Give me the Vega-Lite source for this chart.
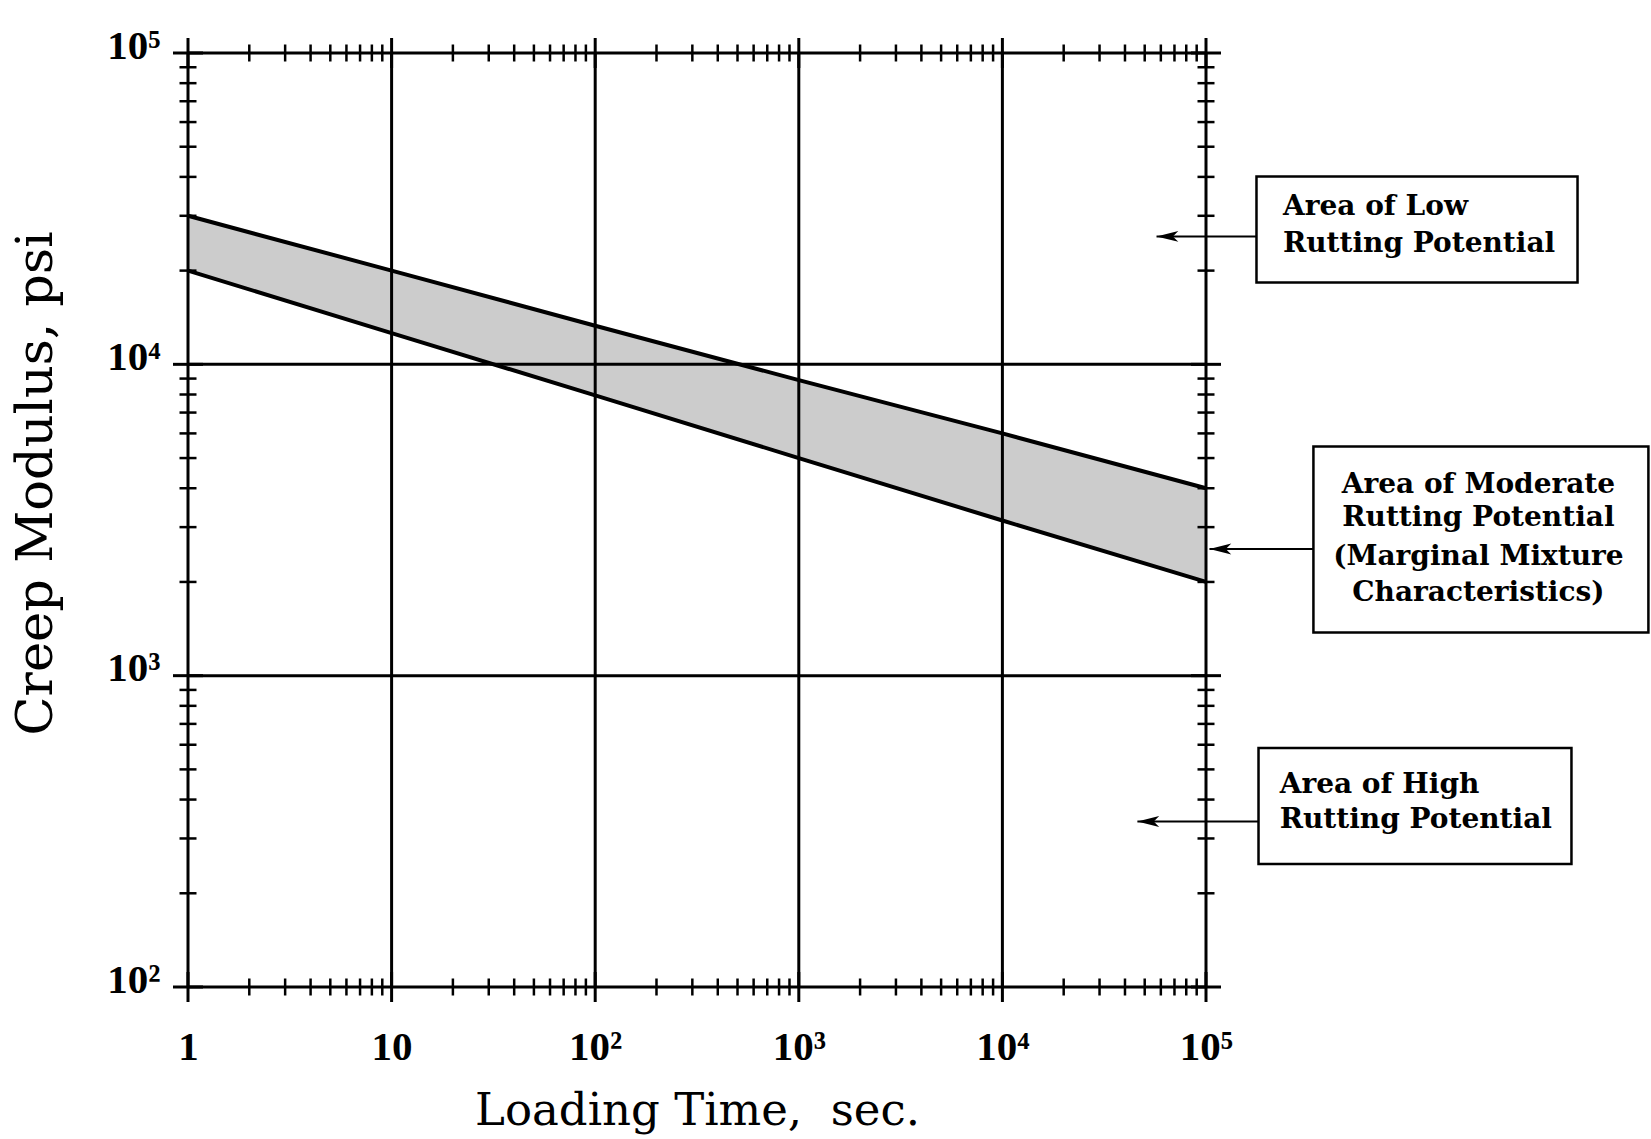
{
  "$schema": "https://vega.github.io/schema/vega-lite/v6.json",
  "autosize": {"type": "none"},
  "padding": {"left": 188, "top": 53, "right": 445, "bottom": 152},
  "width": 1018,
  "height": 934,
  "background": "white",
  "config": {"view": {"stroke": null}},
  "datasets": {
    "band": [
      {"t": 1, "upper": 30000, "lower": 20000},
      {"t": 10, "upper": 20000, "lower": 12600},
      {"t": 100, "upper": 13300, "lower": 7950},
      {"t": 1000, "upper": 8900, "lower": 5000},
      {"t": 10000, "upper": 6000, "lower": 3150},
      {"t": 100000, "upper": 4000, "lower": 2000}
    ],
    "xmajor": [{"v": 1}, {"v": 10}, {"v": 100}, {"v": 1000}, {"v": 10000}, {"v": 100000}],
    "ymajor": [{"v": 100}, {"v": 1000}, {"v": 10000}, {"v": 100000}],
    "xminor": [
      {"v": 2}, {"v": 3}, {"v": 4}, {"v": 5}, {"v": 6}, {"v": 7}, {"v": 8}, {"v": 9},
      {"v": 20}, {"v": 30}, {"v": 40}, {"v": 50}, {"v": 60}, {"v": 70}, {"v": 80}, {"v": 90},
      {"v": 200}, {"v": 300}, {"v": 400}, {"v": 500}, {"v": 600}, {"v": 700}, {"v": 800}, {"v": 900},
      {"v": 2000}, {"v": 3000}, {"v": 4000}, {"v": 5000}, {"v": 6000}, {"v": 7000}, {"v": 8000}, {"v": 9000},
      {"v": 20000}, {"v": 30000}, {"v": 40000}, {"v": 50000}, {"v": 60000}, {"v": 70000}, {"v": 80000}, {"v": 90000}
    ],
    "yminor": [
      {"v": 200}, {"v": 300}, {"v": 400}, {"v": 500}, {"v": 600}, {"v": 700}, {"v": 800}, {"v": 900},
      {"v": 2000}, {"v": 3000}, {"v": 4000}, {"v": 5000}, {"v": 6000}, {"v": 7000}, {"v": 8000}, {"v": 9000},
      {"v": 20000}, {"v": 30000}, {"v": 40000}, {"v": 50000}, {"v": 60000}, {"v": 70000}, {"v": 80000}, {"v": 90000}
    ],
    "boxes": [
      {"x1": 177000, "x2": 6680000, "y1": 40150, "y2": 18320},
      {"x1": 337000, "x2": 14890000, "y1": 5450, "y2": 1376},
      {"x1": 181100, "x2": 6237000, "y1": 585.5, "y2": 248.5}
    ],
    "arrows": [
      {"from": 177000, "to": 57150, "y": 25760},
      {"from": 337000, "to": 104000, "y": 2551},
      {"from": 181100, "to": 46030, "y": 340}
    ],
    "notesLeft": [
      {"x": 238800, "y": 32060, "text": "Area of Low"},
      {"x": 238800, "y": 24430, "text": "Rutting Potential"},
      {"x": 230100, "y": 445.6, "text": "Area of High"},
      {"x": 230100, "y": 345.1, "text": "Rutting Potential"}
    ],
    "notesCenter": [
      {"x": 2178000, "y": 4102, "text": "Area of Moderate"},
      {"x": 2178000, "y": 3199, "text": "Rutting Potential"},
      {"x": 2178000, "y": 2399, "text": "(Marginal Mixture"},
      {"x": 2178000, "y": 1841, "text": "Characteristics)"}
    ]
  },
  "layer": [
    {
      "data": {"name": "band"},
      "mark": {"type": "area", "color": "#cccccc", "opacity": 1},
      "encoding": {
        "x": {
          "field": "t", "type": "quantitative",
          "scale": {"type": "log", "domain": [1, 100000], "nice": false},
          "axis": {
            "values": [1, 10, 100, 1000, 10000, 100000],
            "labelExpr": "datum.value == 1 ? '1' : datum.value == 10 ? '10' : datum.value == 100 ? '10²' : datum.value == 1000 ? '10³' : datum.value == 10000 ? '10⁴' : '10⁵'",
            "grid": false, "domain": false, "ticks": false, "tickSize": 0,
            "labelPadding": 40, "labelFont": "Liberation Serif", "labelFontWeight": "bold",
            "labelFontSize": 41, "labelColor": "black", "labelFlush": false,
            "labelOverlap": false, "labelBound": false,
            "title": "Loading Time,\u00a0 sec.", "titleFont": "DejaVu Serif", "titleFontSize": 45,
            "titleFontWeight": "normal", "titleColor": "black", "titlePadding": 21
          }
        },
        "y": {
          "field": "lower", "type": "quantitative",
          "scale": {"type": "log", "domain": [100, 100000], "nice": false},
          "axis": {
            "values": [100, 1000, 10000, 100000],
            "labelExpr": "datum.value == 100 ? '10²' : datum.value == 1000 ? '10³' : datum.value == 10000 ? '10⁴' : '10⁵'",
            "grid": false, "domain": false, "ticks": false, "tickSize": 0,
            "labelPadding": 28, "labelOffset": -7, "labelFont": "Liberation Serif", "labelFontWeight": "bold",
            "labelFontSize": 41, "labelColor": "black", "labelFlush": false,
            "labelOverlap": false, "labelBound": false,
            "title": "Creep Modulus, psi", "titleFont": "DejaVu Serif", "titleFontSize": 51,
            "titleFontWeight": "normal", "titleColor": "black", "titlePadding": 44, "titleY": 430
          }
        },
        "y2": {"field": "upper"}
      }
    },
    {
      "data": {"name": "band"},
      "mark": {"type": "line", "color": "black", "strokeWidth": 4},
      "encoding": {
        "x": {"field": "t", "type": "quantitative"},
        "y": {"field": "upper", "type": "quantitative"}
      }
    },
    {
      "data": {"name": "band"},
      "mark": {"type": "line", "color": "black", "strokeWidth": 4},
      "encoding": {
        "x": {"field": "t", "type": "quantitative"},
        "y": {"field": "lower", "type": "quantitative"}
      }
    },
    {
      "data": {"name": "xmajor"},
      "mark": {"type": "rule", "color": "black", "strokeWidth": 3},
      "encoding": {
        "x": {"field": "v", "type": "quantitative"},
        "y": {"datum": 100, "type": "quantitative"},
        "y2": {"datum": 100000}
      }
    },
    {
      "data": {"name": "ymajor"},
      "mark": {"type": "rule", "color": "black", "strokeWidth": 3},
      "encoding": {
        "y": {"field": "v", "type": "quantitative"},
        "x": {"datum": 1, "type": "quantitative"},
        "x2": {"datum": 100000}
      }
    },
    {
      "data": {"name": "xmajor"},
      "mark": {"type": "tick", "orient": "vertical", "size": 30, "thickness": 3, "color": "black", "opacity": 1},
      "encoding": {
        "x": {"field": "v", "type": "quantitative"},
        "y": {"datum": 100, "type": "quantitative"}
      }
    },
    {
      "data": {"name": "xmajor"},
      "mark": {"type": "tick", "orient": "vertical", "size": 30, "thickness": 3, "color": "black", "opacity": 1},
      "encoding": {
        "x": {"field": "v", "type": "quantitative"},
        "y": {"datum": 100000, "type": "quantitative"}
      }
    },
    {
      "data": {"name": "xminor"},
      "mark": {"type": "tick", "orient": "vertical", "size": 17, "thickness": 2.5, "color": "black", "opacity": 1},
      "encoding": {
        "x": {"field": "v", "type": "quantitative"},
        "y": {"datum": 100, "type": "quantitative"}
      }
    },
    {
      "data": {"name": "xminor"},
      "mark": {"type": "tick", "orient": "vertical", "size": 17, "thickness": 2.5, "color": "black", "opacity": 1},
      "encoding": {
        "x": {"field": "v", "type": "quantitative"},
        "y": {"datum": 100000, "type": "quantitative"}
      }
    },
    {
      "data": {"name": "ymajor"},
      "mark": {"type": "tick", "orient": "horizontal", "size": 30, "thickness": 3, "color": "black", "opacity": 1},
      "encoding": {
        "y": {"field": "v", "type": "quantitative"},
        "x": {"datum": 1, "type": "quantitative"}
      }
    },
    {
      "data": {"name": "ymajor"},
      "mark": {"type": "tick", "orient": "horizontal", "size": 30, "thickness": 3, "color": "black", "opacity": 1},
      "encoding": {
        "y": {"field": "v", "type": "quantitative"},
        "x": {"datum": 100000, "type": "quantitative"}
      }
    },
    {
      "data": {"name": "yminor"},
      "mark": {"type": "tick", "orient": "horizontal", "size": 17, "thickness": 2.5, "color": "black", "opacity": 1},
      "encoding": {
        "y": {"field": "v", "type": "quantitative"},
        "x": {"datum": 1, "type": "quantitative"}
      }
    },
    {
      "data": {"name": "yminor"},
      "mark": {"type": "tick", "orient": "horizontal", "size": 17, "thickness": 2.5, "color": "black", "opacity": 1},
      "encoding": {
        "y": {"field": "v", "type": "quantitative"},
        "x": {"datum": 100000, "type": "quantitative"}
      }
    },
    {
      "data": {"name": "boxes"},
      "mark": {"type": "rect", "fill": "white", "stroke": "black", "strokeWidth": 2.5},
      "encoding": {
        "x": {"field": "x1", "type": "quantitative"},
        "x2": {"field": "x2"},
        "y": {"field": "y1", "type": "quantitative"},
        "y2": {"field": "y2"}
      }
    },
    {
      "data": {"name": "arrows"},
      "mark": {"type": "rule", "color": "black", "strokeWidth": 2},
      "encoding": {
        "x": {"field": "from", "type": "quantitative"},
        "x2": {"field": "to"},
        "y": {"field": "y", "type": "quantitative"}
      }
    },
    {
      "data": {"name": "arrows"},
      "mark": {"type": "point", "shape": "M0,0L1,-0.25L0.75,0L1,0.25Z", "size": 1900, "filled": true, "color": "black", "opacity": 1},
      "encoding": {
        "x": {"field": "to", "type": "quantitative"},
        "y": {"field": "y", "type": "quantitative"}
      }
    },
    {
      "data": {"name": "notesLeft"},
      "mark": {"type": "text", "align": "left", "baseline": "middle", "font": "DejaVu Serif", "fontWeight": "bold", "fontSize": 28, "color": "black"},
      "encoding": {
        "x": {"field": "x", "type": "quantitative"},
        "y": {"field": "y", "type": "quantitative"},
        "text": {"field": "text"}
      }
    },
    {
      "data": {"name": "notesCenter"},
      "mark": {"type": "text", "align": "center", "baseline": "middle", "font": "DejaVu Serif", "fontWeight": "bold", "fontSize": 28, "color": "black"},
      "encoding": {
        "x": {"field": "x", "type": "quantitative"},
        "y": {"field": "y", "type": "quantitative"},
        "text": {"field": "text"}
      }
    }
  ]
}
